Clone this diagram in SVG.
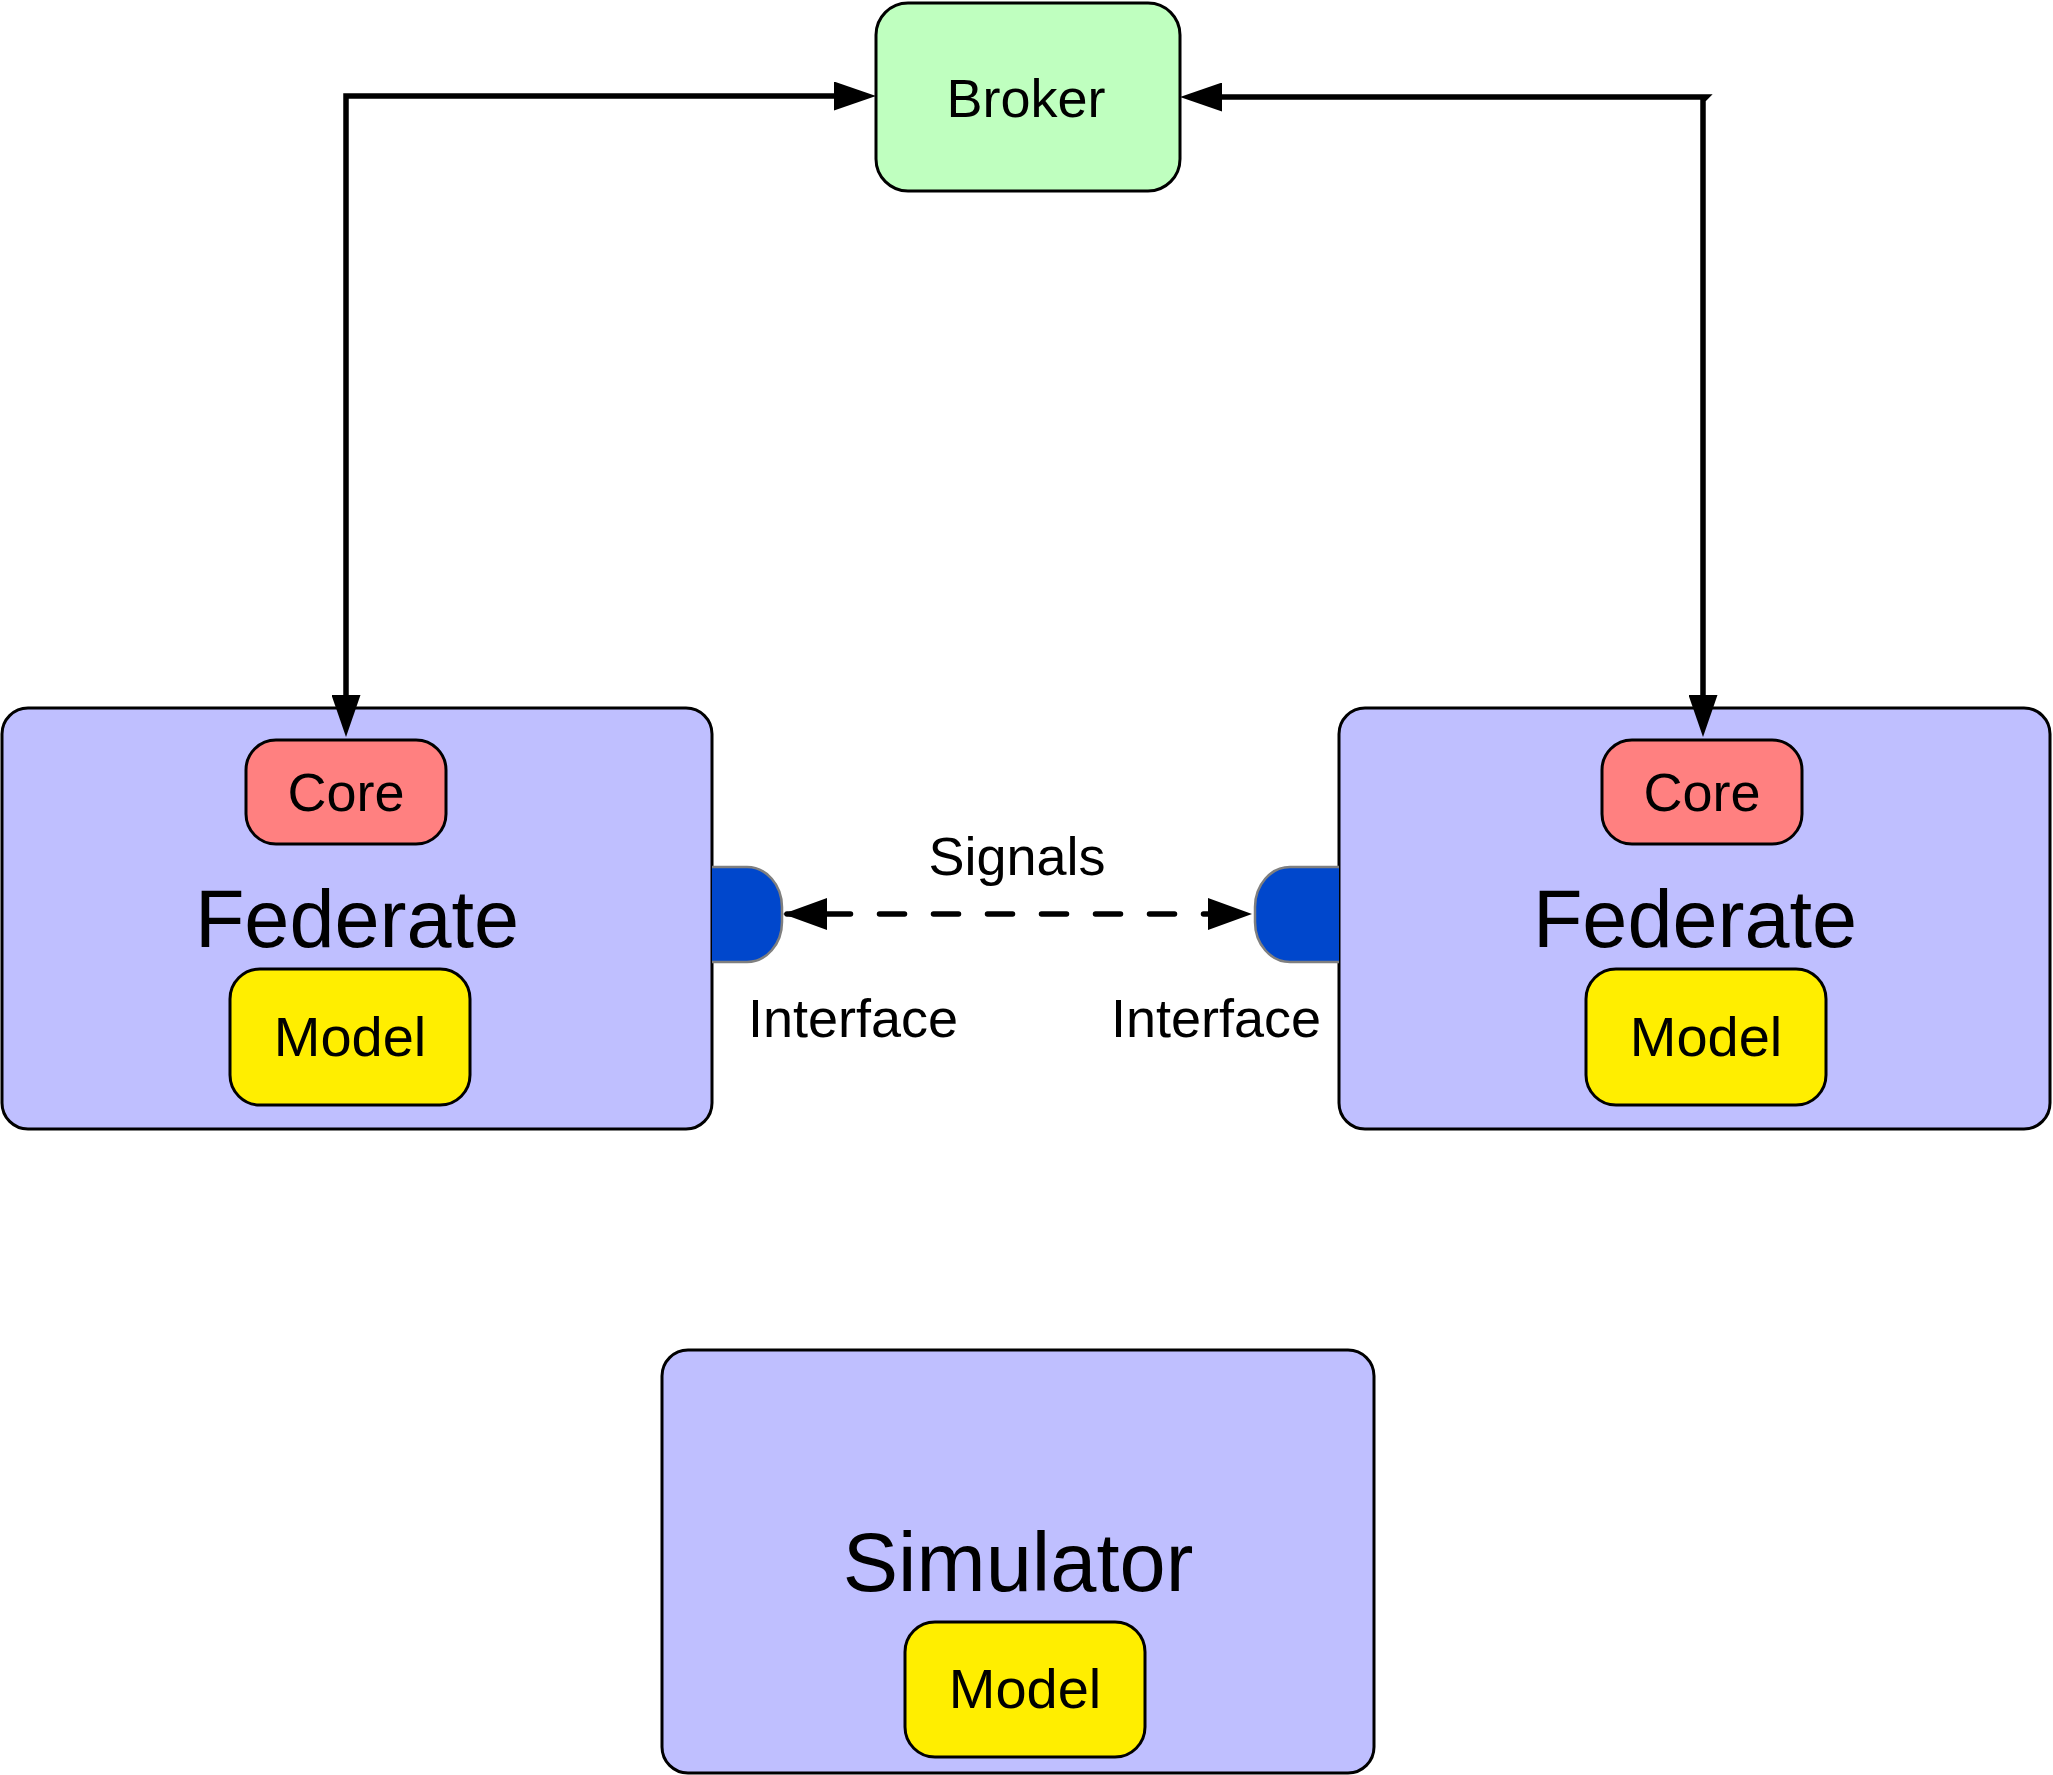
<svg xmlns="http://www.w3.org/2000/svg" width="2053" height="1775" viewBox="0 0 2053 1775">
<style>
text{font-family:"Liberation Sans",Arial,Helvetica,sans-serif;fill:#000;text-anchor:middle}
.box{stroke:#000;stroke-width:3}
.fed{fill:#BFBFFF}
.broker{fill:#BFFFBF}
.core{fill:#FF8080}
.model{fill:#FFEE00}
.iface{fill:#0047CC;stroke:#7F7F7F;stroke-width:2.5}
.big{font-size:81px}
.mid{font-size:54px}
.mdl{font-size:56px}
.lbl{font-size:54px}
.conn{fill:none;stroke:#000;stroke-width:5.5;stroke-linejoin:miter}
.dash{fill:none;stroke:#000;stroke-width:5.5;stroke-linecap:round;stroke-dasharray:25 29;stroke-dashoffset:15.5}
</style>
<defs>
<marker id="ah" markerUnits="userSpaceOnUse" viewBox="0 0 42 29" refX="22" refY="14.5" markerWidth="42" markerHeight="29" orient="auto-start-reverse">
<path d="M0,0 L42,14.5 L0,29 Z" fill="#000"/>
</marker>
<marker id="ahd" markerUnits="userSpaceOnUse" viewBox="0 0 44 32" refX="40" refY="16" markerWidth="44" markerHeight="32" orient="auto-start-reverse">
<path d="M0,0 L44,16 L0,32 Z" fill="#000"/>
</marker>
</defs>

<g id="broker">
<rect class="box broker" x="876" y="3" width="304" height="188" rx="32"/>
<text class="lbl" x="1026" y="117">Broker</text>
</g>

<g id="federate-left">
<rect class="box fed" x="2" y="708" width="710" height="421" rx="26"/>
<text class="big" x="357" y="947">Federate</text>
<g id="core-left">
<rect class="box core" x="246" y="740" width="200" height="104" rx="30"/>
<text class="mid" x="346" y="811">Core</text>
</g>
<g id="model-left">
<rect class="box model" x="230" y="969" width="240" height="136" rx="30"/>
<text class="mdl" x="350" y="1056">Model</text>
</g>
</g>

<g id="federate-right">
<rect class="box fed" x="1339" y="708" width="711" height="421" rx="26"/>
<text class="big" x="1695" y="947">Federate</text>
<g id="core-right">
<rect class="box core" x="1602" y="740" width="200" height="104" rx="30"/>
<text class="mid" x="1702" y="811">Core</text>
</g>
<g id="model-right">
<rect class="box model" x="1586" y="969" width="240" height="136" rx="30"/>
<text class="mdl" x="1706" y="1056">Model</text>
</g>
</g>

<g id="interface-left">
<path class="iface" d="M712,867 H747 A35,40 0 0 1 782,907 V922 A35,40 0 0 1 747,962 H712"/>
<text class="lbl" x="853" y="1037">Interface</text>
</g>

<g id="interface-right">
<path class="iface" d="M1339,867 H1290 A35,40 0 0 0 1255,907 V922 A35,40 0 0 0 1290,962 H1339"/>
<text class="lbl" x="1216" y="1037">Interface</text>
</g>

<g id="simulator">
<rect class="box fed" x="662" y="1350" width="712" height="423" rx="26"/>
<text class="big" x="1018" y="1591" style="font-size:83px">Simulator</text>
<g id="model-sim">
<rect class="box model" x="905" y="1622" width="240" height="135" rx="30"/>
<text class="mdl" x="1025" y="1708">Model</text>
</g>
</g>

<g id="connectors">
<path class="conn" d="M346,717 V96 H856" marker-start="url(#ah)" marker-end="url(#ah)"/>
<path class="conn" d="M1703,717 V100 L1706,97 H1200" marker-start="url(#ah)" marker-end="url(#ah)"/>
<path class="dash" d="M787,914 H1248" marker-start="url(#ahd)" marker-end="url(#ahd)"/>
<text class="lbl" x="1017" y="875">Signals</text>
</g>
</svg>
